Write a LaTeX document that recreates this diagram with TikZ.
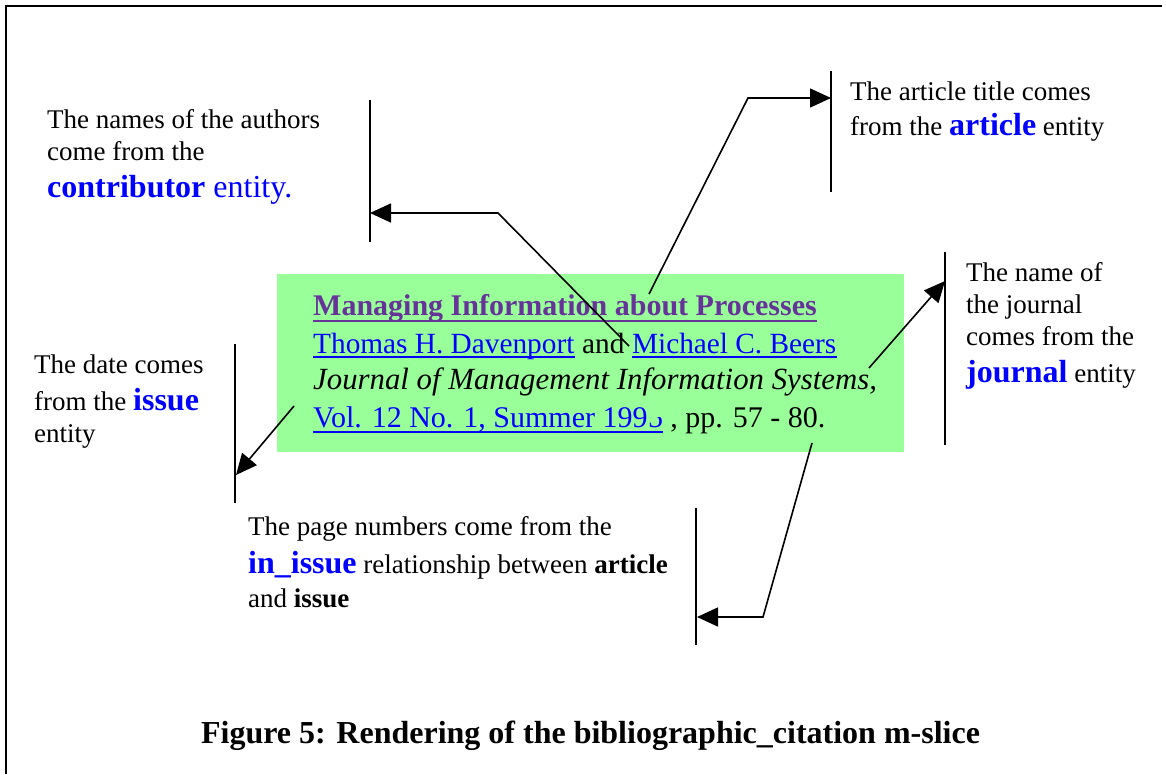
\documentclass[tikz,border=0pt]{standalone}
\usepackage{fontspec}
\setmainfont{Liberation Serif}
\usetikzlibrary{arrows.meta}
\definecolor{boxgreen}{RGB}{153,255,153}
\definecolor{titlepurple}{RGB}{102,51,153}
\newcommand{\bodysize}{\fontsize{27}{32}\selectfont}
\newcommand{\bigkw}[1]{{\fontsize{32}{36}\selectfont\bfseries\color{blue}#1}}
\begin{document}
\begin{tikzpicture}[x=1pt,y=-1pt,
  txt/.style={inner sep=0pt, anchor=base west, font=\bodysize},
  boxtxt/.style={inner sep=0pt, anchor=base west},
  bar/.style={line width=1.5pt},
  arr/.style={line width=1.6pt, -{Triangle[length=21pt,width=19pt]}},
  uline/.style={line width=2pt},
]
\useasboundingbox (0,0) rectangle (1166,774);
% frame
\draw[line width=2.5pt] (1162,6) -- (6,6) -- (6,774);

% green citation box
\node[fill=boxgreen, minimum width=627pt, minimum height=178pt, anchor=north west, inner sep=0pt] (cite) at (277,274) {};

\node[boxtxt, font=\fontsize{30}{36}\selectfont\bfseries, text=titlepurple] (title) at (313,315) {Managing Information about Processes};
\draw[uline, titlepurple, line width=2.5pt] ([yshift=-6pt]title.base west) -- ([yshift=-6pt]title.base east);

\node[boxtxt, font=\fontsize{29.3}{35}\selectfont, text=blue] (au1) at (313,353) {Thomas H. Davenport};
\node[boxtxt, font=\fontsize{29.3}{35}\selectfont] (au2) at ([xshift=7.3pt]au1.base east) {and};
\node[boxtxt, font=\fontsize{29.3}{35}\selectfont, text=blue] (au3) at ([xshift=7.3pt]au2.base east) {Michael C. Beers};
\draw[uline, blue] ([yshift=-4pt]au1.base west) -- ([yshift=-4pt]au1.base east);
\draw[uline, blue] ([yshift=-4pt]au3.base west) -- ([yshift=-4pt]au3.base east);

\node[boxtxt, font=\fontsize{30.8}{36}\selectfont\itshape] (jn) at (313,389) {Journal of Management Information Systems,};

\node[boxtxt, font=\fontsize{30}{36}\selectfont, text=blue] (v1) at (313,427) {Vol. 12 No. 1, Summer 199};
\begin{scope}
  \clip ([yshift=-3pt]v1.base east) rectangle ([xshift=16pt,yshift=10pt]v1.base east);
  \node[boxtxt, font=\fontsize{30}{36}\selectfont, text=blue] (v5) at (v1.base east) {5};
\end{scope}
\draw[uline, blue] ([yshift=-5pt]v1.base west) -- ([yshift=-5pt]v5.base east);
\node[boxtxt, font=\fontsize{30}{36}\selectfont] (pp) at ([xshift=7pt]v5.base east) {, pp. 57 - 80.};

% authors annotation
\node[txt] (auth1) at (47,128) {The names of the authors};
\node[txt] (auth2) at (47,160) {come from the};
\node[txt] (auth3) at (47,197) {\fontsize{32}{36}\selectfont\color{blue}\textbf{contributor} entity.};

% article annotation
\node[txt] (art1) at (850,100) {The article title comes};
\node[txt] (art2) at (850,135) {from the \bigkw{article} entity};

% journal annotation
\node[txt] (jr1) at (966,281) {The name of};
\node[txt] (jr2) at (966,313) {the journal};
\node[txt] (jr3) at (966,345) {comes from the};
\node[txt] (jr4) at (966,382) {\bigkw{journal} entity};

% date annotation
\node[txt] (dt1) at (34,373) {The date comes};
\node[txt] (dt2) at (34,410) {from the \bigkw{issue}};
\node[txt] (dt3) at (34,442) {entity};

% page annotation
\node[txt] (pg1) at (248,535) {The page numbers come from the};
\node[txt] (pg2) at (248,573) {\bigkw{in\_issue} relationship between \textbf{article}};
\node[txt] (pg3) at (248,607) {and \textbf{issue}};

% caption
\node[inner sep=0pt, anchor=base, font=\fontsize{32}{36}\selectfont\bfseries] (caption) at (590.5,743) {Figure 5: Rendering of the bibliographic\_citation m-slice};

% bars
\coordinate (abT) at (370,100); \coordinate (abB) at (370,242);
\coordinate (arT) at (831,71);  \coordinate (arB) at (831,192);
\coordinate (jbT) at (945,252); \coordinate (jbB) at (945,445);
\coordinate (dbT) at (235,344); \coordinate (dbB) at (235,503);
\coordinate (pbT) at (696,508); \coordinate (pbB) at (696,645);
\draw[bar] (abT) -- (abB);
\draw[bar] (arT) -- (arB);
\draw[bar] (jbT) -- (jbB);
\draw[bar] (dbT) -- (dbB);
\draw[bar] (pbT) -- (pbB);

% connectors
\coordinate (authSrc) at (629,346); \coordinate (authBend) at (498,213); \coordinate (authTip) at (370,213);
\draw[arr] (authSrc) -- (authBend) -- (authTip);

\coordinate (artSrc) at (649,294); \coordinate (artBend) at (748,98); \coordinate (artTip) at (831,98);
\draw[arr] (artSrc) -- (artBend) -- (artTip);

\coordinate (jrSrc) at (869,368); \coordinate (jrTip) at (945,281);
\draw[arr] (jrSrc) -- (jrTip);

\coordinate (dtSrc) at (294,406); \coordinate (dtTip) at (236,475);
\draw[arr] (dtSrc) -- (dtTip);

\coordinate (pgSrc) at (812,443); \coordinate (pgBend) at (763,617); \coordinate (pgTip) at (697,617);
\draw[arr] (pgSrc) -- (pgBend) -- (pgTip);
\end{tikzpicture}
\end{document}
